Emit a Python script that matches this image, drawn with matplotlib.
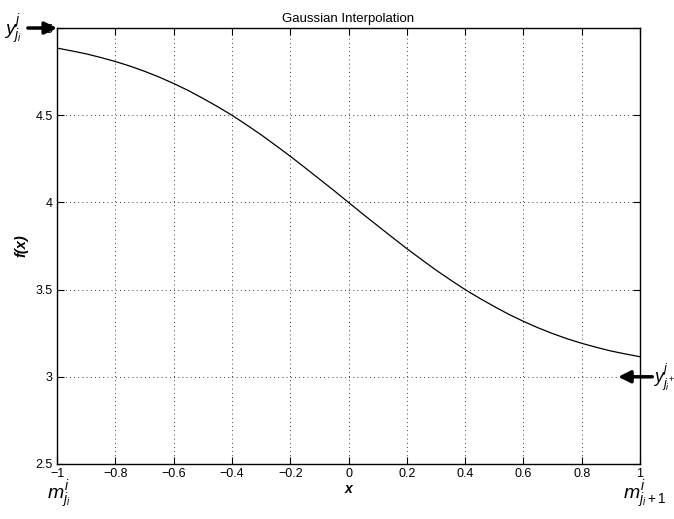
import matplotlib
matplotlib.use('Agg')
import matplotlib.pyplot as plt
import numpy as np

# ------------------- DATA ----------------
x = np.round(np.arange(-1, 1.0001, 0.05), 2)
# half of the curve (x = 0 ... 1), the other half mirrors it around f = 4
drop = [0.0, 0.068, 0.134, 0.20, 0.265, 0.327, 0.388, 0.445, 0.50, 0.55,
        0.597, 0.642, 0.682, 0.719, 0.752, 0.782, 0.808, 0.831, 0.852, 0.869, 0.885]
fx = [4 + d for d in drop[:0:-1]] + [4 - d for d in drop]

xticks = [-1, -0.8, -0.6, -0.4, -0.2, 0, 0.2, 0.4, 0.6, 0.8, 1]
xticklabels = ['\u22121', '\u22120.8', '\u22120.6', '\u22120.4', '\u22120.2', '0',
               '0.2', '0.4', '0.6', '0.8', '1']
yticks = [2.5, 3, 3.5, 4, 4.5, 5]
yticklabels = ['2.5', '3', '3.5', '4', '4.5', '5']

plt.rcParams['font.family'] = ['Liberation Sans', 'DejaVu Sans']
plt.rcParams['mathtext.fontset'] = 'custom'
plt.rcParams['mathtext.it'] = 'Liberation Sans:italic'
plt.rcParams['mathtext.rm'] = 'Liberation Sans'

fig = plt.figure(figsize=(6.74, 5.19), dpi=100)
ax = fig.add_axes([0.0846, 0.106, 0.865, 0.84])
ax.plot(x, fx, color='k', lw=0.9)

ax.set_xlim(-1, 1)
ax.set_ylim(2.5, 5)
ax.set_xticks(xticks)
ax.set_xticklabels(xticklabels)
ax.set_yticks(yticks)
ax.set_yticklabels(yticklabels)
ax.tick_params(direction='in', length=5, labelsize=9, width=0.8,
               top=True, right=True, pad=3)
ax.grid(True, color='k', ls=(0, (1, 4)), lw=0.6)
for s in ax.spines.values():
    s.set_linewidth(1.0)

ax.set_title('Gaussian Interpolation', fontsize=9.5, pad=4)
ax.set_xlabel('x', fontsize=10, fontweight='bold', style='italic', labelpad=1)
ax.set_ylabel('f(x)', fontsize=10.5, fontweight='bold', style='italic', labelpad=5)

# arrows and labels outside the axes
arrow = dict(arrowstyle='-|>', lw=2.5, color='k', mutation_scale=18,
             shrinkA=0, shrinkB=0)
ax.annotate('', xy=(-1.0, 5), xytext=(-1.1, 5), arrowprops=arrow,
            annotation_clip=False)
ax.annotate('', xy=(0.925, 3), xytext=(1.042, 3), arrowprops=arrow,
            annotation_clip=False)

ax.text(-1.12, 4.99, r'$y^{j}_{j_i}$', fontsize=14, ha='right', va='center',
        clip_on=False)
ax.text(1.045, 3.0, r'$y^{j}_{j_i^+}$', fontsize=13, ha='left', va='center',
        clip_on=False)
ax.text(-0.995, 2.32, r'$m^{i}_{j_i}$', fontsize=14, ha='center', va='center',
        clip_on=False)
ax.text(1.015, 2.32, r'$m^{i}_{j_i+1}$', fontsize=14, ha='center', va='center',
        clip_on=False)

fig.savefig('out.png', dpi=100)
